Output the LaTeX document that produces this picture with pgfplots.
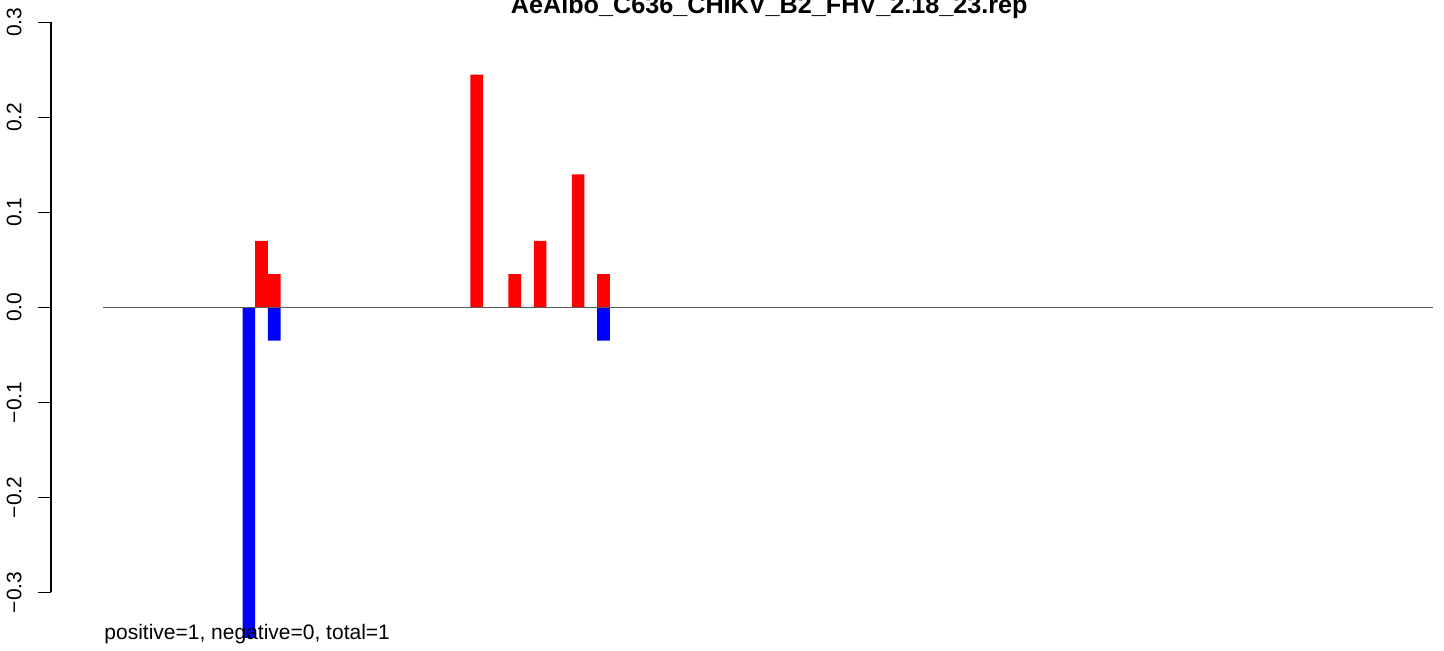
\documentclass[border=0pt]{standalone}
\usepackage{pgfplots}
\pgfplotsset{compat=1.18}
\usepackage{fontspec}
\setmainfont{Liberation Sans}
\definecolor{zeroline}{RGB}{90,90,90}
\begin{document}
\begin{tikzpicture}
\begin{axis}[
  x=6.3305pt, y=475pt,
  xmin=-4.13, xmax=105,
  ymin=-0.3, ymax=0.3,
  clip=false,
  axis x line=none,
  axis y line*=left,
  y axis line style={-, line width=0.6pt, black},
  ytick={-0.3,-0.2,-0.1,0,0.1,0.2,0.3},
  yticklabels={−0.3,−0.2,−0.1,0.0,0.1,0.2,0.3},
  tick align=outside,
  major tick length=6.5pt,
  ytick style={line width=0.6pt, black},
  yticklabel style={rotate=90, anchor=south, inner xsep=0pt, inner ysep=8pt,
    font=\fontsize{10.5}{12}\selectfont},
]
\addplot[ybar, bar width=1, bar shift=0pt, fill=red, draw=none]
  coordinates {(12.5,0.07) (13.5,0.035) (29.5,0.245) (32.5,0.035) (34.5,0.07) (37.5,0.14) (39.5,0.035)};
\addplot[ybar, bar width=1, bar shift=0pt, fill=blue, draw=none]
  coordinates {(11.5,-0.348) (13.5,-0.035) (39.5,-0.035)};
\addplot[color=zeroline, line width=0.5pt] coordinates {(0,0) (105,0)};
\node[anchor=base, inner sep=0pt, font=\fontsize{12.6}{14}\selectfont\bfseries]
  at (axis cs:52.6,0.30874) {AeAlbo\_C636\_CHIKV\_B2\_FHV\_2.18\_23.rep};
\node[anchor=base west, inner sep=0pt, font=\fontsize{10.5}{12}\selectfont]
  at (axis cs:0.06,-0.3492) {positive=1, negative=0, total=1};
\coordinate (bbsw) at (axis cs:-8.159,-0.36074);
\coordinate (bbne) at (axis cs:105.89,0.32347);
\end{axis}
\pgfresetboundingbox
\useasboundingbox (bbsw) rectangle (bbne);
\end{tikzpicture}
\end{document}
